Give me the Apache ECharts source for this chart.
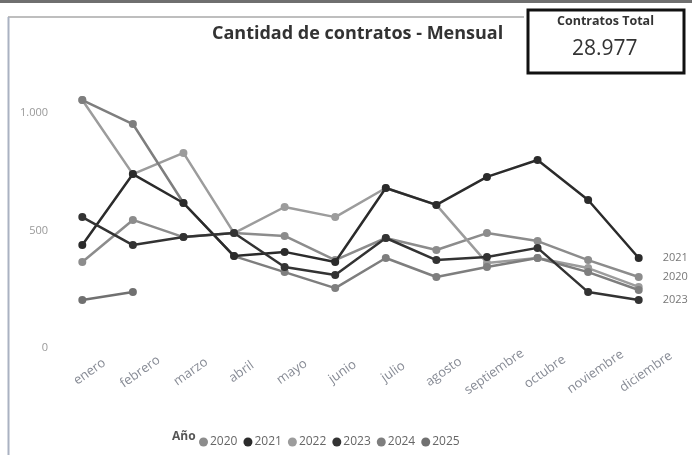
<!DOCTYPE html>
<html>
<head>
<meta charset="utf-8">
<script src="https://cdn.jsdelivr.net/npm/echarts@6/dist/echarts.min.js"></script>
<style>
  html, body { margin: 0; padding: 0; background: #ffffff; }
  #chart { width: 692px; height: 455px; }
</style>
</head>
<body>
<div id="chart"></div>
<script>
const months = ['enero','febrero','marzo','abril','mayo','junio','julio','agosto','septiembre','octubre','noviembre','diciembre'];
const years = ['2020','2021','2022','2023','2024','2025'];
const v2020 = [366, 545, 472, 489, 477, 374, 468, 417, 489, 455, 374, 302];
const v2021 = [438, 740, 617, 391, 409, 366, 681, 609, 728, 800, 630, 383];
const v2022 = [1055, 740, 830, 489, 600, 557, 681, 609, 362, 383, 340, 260];
const v2023 = [557, 438, 472, 489, 345, 311, 468, 374, 387, 426, 238, 204];
const v2024 = [1055, 953, 617, 391, 323, 255, 383, 302, 345, 383, 323, 247];
const v2025 = [204, 238];
const yTicks = [0, 500, 1000];
const kpiTitle = 'Contratos Total';
const kpiValue = '28.977';
const chartTitle = 'Cantidad de contratos - Mensual';

const seriesValues = [v2020, v2021, v2022, v2023, v2024, v2025];
const colors = ['#8c8c8c', '#2b2b2b', '#9c9c9c', '#333333', '#7e7e7e', '#707070'];
const labelled = { '2020': true, '2021': true, '2023': true };
const FONT = "'Open Sans', 'Noto Sans', sans-serif";

const chart = echarts.init(document.getElementById('chart'), null, { renderer: 'canvas' });

const series = years.map((y, i) => ({
  name: y,
  type: 'line',
  data: seriesValues[i],
  symbol: 'circle',
  symbolSize: 8,
  lineStyle: { width: 2.5, color: colors[i] },
  itemStyle: { color: colors[i] },
  z: (y === '2021' || y === '2023') ? 3 : 2,
  endLabel: labelled[y] ? {
    show: true,
    formatter: y,
    color: '#777',
    fontSize: 11,
    fontFamily: FONT,
    distance: 24
  } : { show: false },
  emphasis: { disabled: true }
}));

chart.setOption({
  animation: false,
  backgroundColor: '#ffffff',
  textStyle: { fontFamily: FONT },
  title: {
    text: chartTitle,
    left: 207,
    top: 20,
    textStyle: { fontSize: 18, fontWeight: 'bold', color: '#333', fontFamily: FONT }
  },
  legend: {
    data: years,
    left: 194,
    top: 431,
    icon: 'circle',
    itemWidth: 9,
    itemHeight: 9,
    itemGap: 6,
    textStyle: { fontSize: 12, color: '#666', fontFamily: FONT, padding: [0, 0, 0, -3] }
  },
  grid: { left: 57, right: 28, top: 89.5, bottom: 107, containLabel: false },
  xAxis: {
    type: 'category',
    data: months,
    boundaryGap: true,
    axisLine: { show: false },
    axisTick: { show: false },
    axisLabel: {
      rotate: 35, color: '#878b95', fontSize: 13, margin: 29, fontFamily: FONT, interval: 0,
      align: 'center', verticalAlign: 'middle', padding: [0, 0, 0, 18]
    }
  },
  yAxis: {
    type: 'value',
    min: 0,
    max: 1100,
    interval: 500,
    splitLine: { show: false },
    axisLine: { show: false },
    axisTick: { show: false },
    axisLabel: {
      color: '#999',
      fontSize: 11,
      margin: 9,
      fontFamily: FONT,
      formatter: function (v) {
        if (yTicks.indexOf(v) < 0) return '';
        return v >= 1000 ? (Math.floor(v / 1000) + '.' + String(v % 1000).padStart(3, '0')) : String(v);
      }
    }
  },
  graphic: [
    { type: 'rect', shape: { x: 0, y: 0, width: 692, height: 3 }, style: { fill: '#6f6f6f' }, silent: true },
    { type: 'line', shape: { x1: 8, y1: 17, x2: 524, y2: 17 }, style: { stroke: '#a8a8a8', lineWidth: 1.5 }, silent: true },
    { type: 'line', shape: { x1: 8.5, y1: 17, x2: 8.5, y2: 455 }, style: { stroke: '#aab2c2', lineWidth: 2 }, silent: true },
    { type: 'rect', shape: { x: 528, y: 10, width: 156, height: 63 }, style: { fill: '#ffffff', stroke: '#111', lineWidth: 3 }, silent: true },
    { type: 'text', left: 617 - 60, top: 15, style: { text: kpiTitle, width: 120, align: 'center', fill: '#333', font: "bold 12.5px " + FONT }, silent: true },
    { type: 'text', left: 612 - 40, top: 39, style: { text: kpiValue, width: 80, align: 'center', fill: '#333', font: "21px " + FONT }, silent: true },
    { type: 'text', left: 172, top: 431, style: { text: 'Año', fill: '#555', font: "bold 12px " + FONT }, silent: true }
  ],
  series: series
});
</script>
</body>
</html>
